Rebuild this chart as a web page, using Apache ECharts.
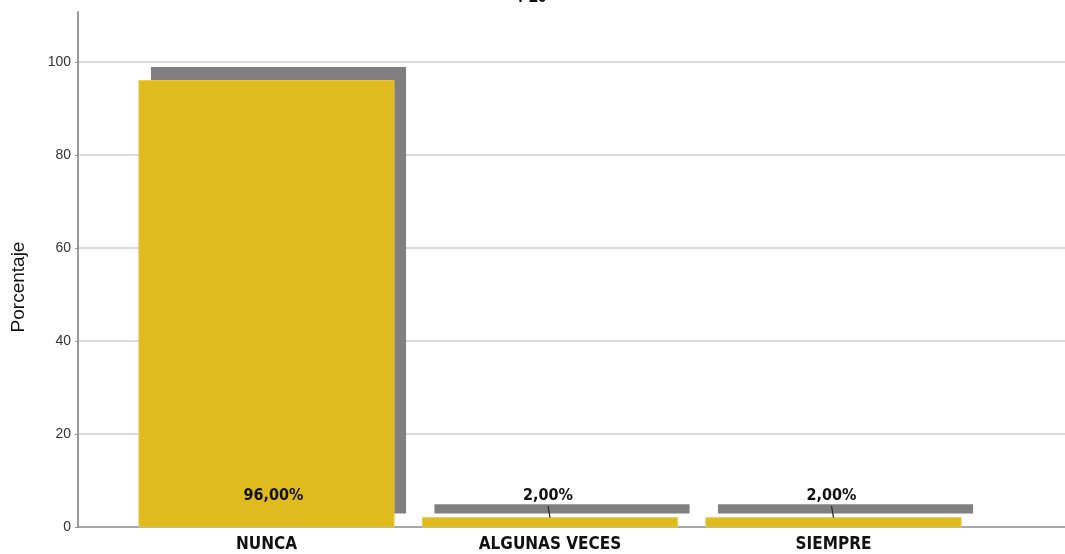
<!DOCTYPE html>
<html>
<head>
<meta charset="utf-8">
<title>P20</title>
<script src="https://cdn.jsdelivr.net/npm/echarts@6/dist/echarts.min.js"></script>
<style>
  html, body { margin: 0; padding: 0; background: #ffffff; }
  #chart { width: 1065px; height: 554px; }
</style>
</head>
<body>
<div id="chart"></div>
<script>
// Answer categories and their percentages
const categories = ['NUNCA', 'ALGUNAS VECES', 'SIEMPRE'];
const percentages = [96, 2, 2];
const yAxisTitle = 'Porcentaje';
const chartTitle = 'P20';

const BAR_COLOR = '#e0bb1e';
const SHADOW_COLOR = '#808080';
const SANS = '"Liberation Sans", Arial, sans-serif';
const LABEL_FONT = '"DejaVu Sans Condensed", "Liberation Sans Narrow", "Liberation Sans", Arial, sans-serif';

function pct(v) {
  return v.toFixed(2).replace('.', ',') + '%';
}

// Bar with an offset drop shadow and a value label near the base
function renderBar(params, api) {
  const cat = api.value(0);
  const v = api.value(1);
  const top = api.coord([cat, v]);
  const base = api.coord([cat, 0]);
  const band = api.size([1, 0])[0];
  const w = band * 0.9;
  const x = top[0] - w / 2;
  const h = base[1] - top[1];
  const dx = 12, dy = 13.5;
  const labelY = base[1] - 31;
  const inside = top[1] < labelY - 12;
  const children = [
    { type: 'rect', shape: { x: x + dx, y: top[1] - dy, width: w, height: h },
      style: { fill: SHADOW_COLOR } },
    { type: 'rect', shape: { x: x, y: top[1], width: w, height: h },
      style: { fill: BAR_COLOR, stroke: '#e6c94a', lineWidth: 1 } }
  ];
  const lx = inside ? top[0] + 7 : top[0] - 2;
  if (!inside) {
    children.push({ type: 'line',
      shape: { x1: lx, y1: labelY + 10, x2: lx + 2, y2: top[1] },
      style: { stroke: '#222', lineWidth: 1.2 } });
  }
  children.push({ type: 'text', style: {
    x: lx, y: labelY, text: pct(v), align: 'center', verticalAlign: 'middle',
    font: 'bold 16px ' + LABEL_FONT, fill: '#111' } });
  return { type: 'group', children: children };
}

const chart = echarts.init(document.getElementById('chart'), null, { renderer: 'canvas' });

chart.setOption({
  animation: false,
  backgroundColor: '#ffffff',
  title: {
    text: chartTitle, left: 'center', top: -15,
    textStyle: { fontSize: 16, fontWeight: 'bold', color: '#111', fontFamily: SANS }
  },
  graphic: [{
    type: 'text', x: 19, y: 287, rotation: Math.PI / 2,
    style: { text: yAxisTitle, font: '19px ' + SANS, fill: '#111', align: 'center', verticalAlign: 'middle' }
  }],
  grid: [
    { left: 78, right: 0, top: 12, bottom: 27, containLabel: false },
    { left: 124.75, right: 89.75, top: 12, bottom: 27, containLabel: false }
  ],
  xAxis: [
    { type: 'value', gridIndex: 0, min: 0, max: 1,
      axisLine: { show: true, lineStyle: { color: '#8c8c8c', width: 1.5 } },
      axisTick: { show: false }, axisLabel: { show: false }, splitLine: { show: false } },
    { type: 'category', gridIndex: 1, data: categories,
      axisLine: { show: false }, axisTick: { show: false },
      axisLabel: { margin: 9, fontSize: 17, fontWeight: 'bold', color: '#111', fontFamily: LABEL_FONT },
      splitLine: { show: false } }
  ],
  yAxis: [
    { type: 'value', gridIndex: 0, min: 0, max: 110.75, interval: 20,
      axisLine: { show: true, lineStyle: { color: '#9a9a9a', width: 2 } },
      axisTick: { show: true, length: 3, lineStyle: { color: '#9a9a9a' } },
      axisLabel: { margin: 7, fontSize: 14, color: '#333', showMaxLabel: false, fontFamily: SANS },
      splitLine: { show: true, showMinLine: false, showMaxLine: false,
        lineStyle: { color: '#cfcfcf', width: 1.5 } } },
    { type: 'value', gridIndex: 1, min: 0, max: 110.75, show: false, splitLine: { show: false } }
  ],
  series: [{
    type: 'custom', xAxisIndex: 1, yAxisIndex: 1,
    renderItem: renderBar,
    encode: { x: 0, y: 1 },
    data: percentages.map((v, i) => [i, v])
  }]
});
</script>
</body>
</html>
